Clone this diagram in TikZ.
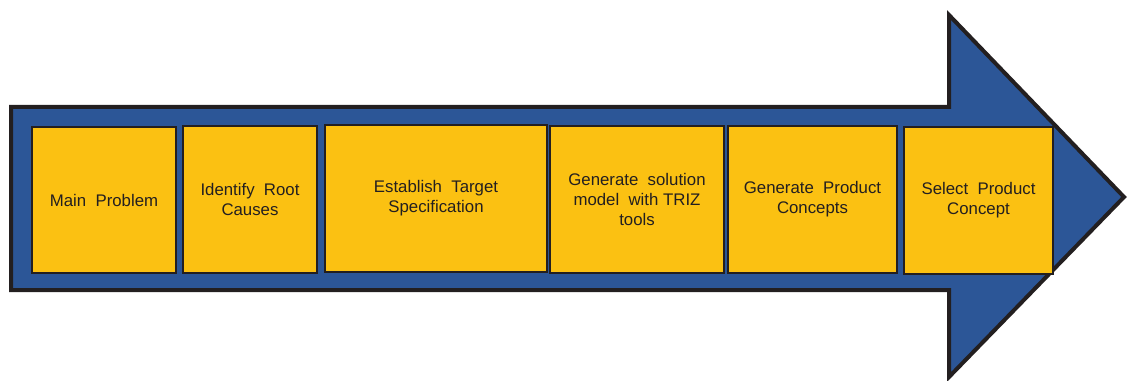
\documentclass[tikz,border=0pt]{standalone}
\usepackage{fontspec}
\setmainfont{Liberation Sans}
\definecolor{arrowblue}{HTML}{2C5697}
\definecolor{boxyellow}{HTML}{FBC112}
\definecolor{inkdark}{HTML}{231F20}
\tikzset{
  bigarrow/.style={fill=arrowblue, draw=inkdark, line width=3pt, line join=miter},
  stepbox/.style={rectangle, fill=boxyellow, draw=inkdark, line width=1.5pt, inner sep=0pt, outer sep=0pt,
     text=inkdark, align=center, font=\fontsize{12.6}{15}\selectfont, minimum height=110.25pt},
}
\begin{document}
\begin{tikzpicture}[x=0.75pt,y=-0.75pt]
\useasboundingbox (0,0) rectangle (1128,381);
\draw[bigarrow] (11,107) -- (949,107) -- (949,15) -- (1124,197) -- (949,377) -- (949,290) -- (11,290) -- cycle;
\node[stepbox, minimum width=108pt, minimum height=109.5pt] (b1) at (104,200) {Main\ \ Problem};
\node[stepbox, minimum width=100.5pt] (b2) at (250,199.5) {Identify\ \ Root\\Causes};
\node[stepbox, minimum width=166.5pt] (b3) at (436,198.5) {Establish\ \ Target\\Specification};
\node[stepbox, minimum width=130.5pt] (b4) at (637,199.5) {Generate\ \ solution\\model\ \ with TRIZ\\tools};
\node[stepbox, minimum width=126.75pt] (b5) at (812.5,199.5) {Generate\ \ Product\\Concepts};
\node[stepbox, minimum width=111.75pt] (b6) at (978.5,200.5) {Select\ \ Product\\Concept};
\end{tikzpicture}
\end{document}
